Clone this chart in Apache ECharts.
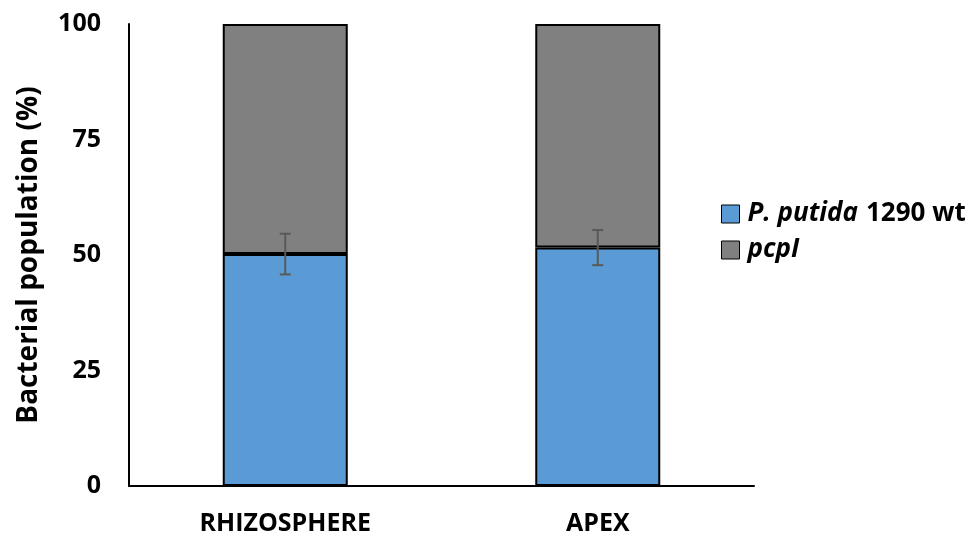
<!DOCTYPE html>
<html><head><meta charset="utf-8">
<script src="https://cdn.jsdelivr.net/npm/echarts@6/dist/echarts.min.js"></script>
<style>html,body{margin:0;padding:0;background:#fff}#c{width:967px;height:541px}</style>
</head><body><div id="c"></div>
<script>
const categories = ['RHIZOSPHERE', 'APEX'];
const wtValues = [50.2, 51.6];
const pcpValues = [49.8, 48.4];
const wtErrors = [4.4, 3.8];
const yTicks = [0, 25, 50, 75, 100];

const FONT = '"Open Sans", "Liberation Sans", sans-serif';
const chart = echarts.init(document.getElementById('c'));
chart.setOption({
  animation: false,
  grid: { left: 129, right: 213, top: 24, bottom: 55 },
  legend: {
    orient: 'vertical', left: 716, top: 196, itemWidth: 18, itemHeight: 18, itemGap: 10,
    icon: 'rect',
    itemStyle: { borderColor: '#000', borderWidth: 1 },
    data: ['wt', 'pcp'],
    formatter: n => n === 'wt' ? '{p|}{i|P. putida}{s| }{b|1290 wt}' : '{p|}{i|pcpI}',
    textStyle: {
      rich: {
        p: { width: 3, lineHeight: 28 },
        i: { fontFamily: FONT, fontSize: 26, fontWeight: 'bold', fontStyle: 'italic', color: '#000', lineHeight: 28 },
        s: { fontFamily: FONT, fontSize: 26, fontWeight: 'bold', color: '#000', lineHeight: 28, width: 8 },
        b: { fontFamily: FONT, fontSize: 26, fontWeight: 'bold', color: '#000', lineHeight: 28 }
      }
    }
  },
  xAxis: {
    type: 'category', data: categories,
    axisLine: { lineStyle: { color: '#000', width: 2 } },
    axisTick: { show: false },
    axisLabel: { fontFamily: FONT, fontSize: 25, fontWeight: 'bold', color: '#000', margin: 25 }
  },
  yAxis: {
    type: 'value', min: 0, max: 100, interval: 25,
    name: 'Bacterial population (%)', nameLocation: 'middle', nameGap: 86,
    nameTextStyle: { fontFamily: FONT, fontSize: 28, fontWeight: 'bold', color: '#000' },
    axisLine: { show: true, lineStyle: { color: '#000', width: 2 } },
    axisTick: { show: false },
    splitLine: { show: false },
    axisLabel: { fontFamily: FONT, fontSize: 25, fontWeight: 'bold', color: '#000', margin: 28,
      formatter: v => yTicks.includes(v) ? String(v) : '' }
  },
  series: [
    { name: 'wt', type: 'bar', stack: 's', data: wtValues, barWidth: '40%',
      itemStyle: { color: '#5B9BD5', borderColor: '#000', borderWidth: 2 } },
    { name: 'pcp', type: 'bar', stack: 's', data: pcpValues, barWidth: '40%',
      itemStyle: { color: '#808080', borderColor: '#000', borderWidth: 2 } },
    { name: 'err', type: 'custom', z: 10,
      data: wtValues.map((v, i) => [i, v - wtErrors[i], v + wtErrors[i]]),
      renderItem: (params, api) => {
        const lo = api.coord([api.value(0), api.value(1)]);
        const hi = api.coord([api.value(0), api.value(2)]);
        const x = lo[0], hw = 5.5;
        const st = { stroke: '#595959', lineWidth: 2 };
        return { type: 'group', children: [
          { type: 'line', shape: { x1: x, y1: lo[1], x2: x, y2: hi[1] }, style: st },
          { type: 'line', shape: { x1: x - hw, y1: lo[1], x2: x + hw, y2: lo[1] }, style: st },
          { type: 'line', shape: { x1: x - hw, y1: hi[1], x2: x + hw, y2: hi[1] }, style: st }
        ]};
      }
    }
  ]
});
</script></body></html>
